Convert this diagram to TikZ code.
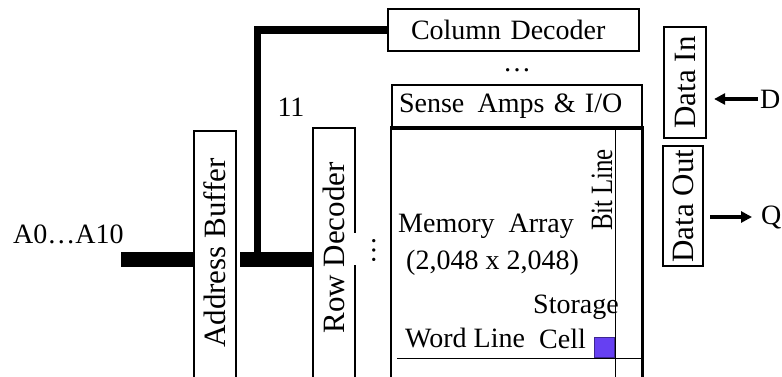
\documentclass[tikz,border=0pt]{standalone}
\usepackage{fontspec}
\setmainfont{Liberation Serif}
\usepackage{graphicx}
\usetikzlibrary{arrows.meta,positioning,calc}
\definecolor{ink}{RGB}{0,0,0}
\definecolor{cellblue}{RGB}{102,64,242}
\newcommand\figfont{\fontsize{28}{32}\selectfont}
\newcommand\vfont{\fontsize{31}{34}\selectfont}
\tikzset{
  >={Triangle[length=11pt,width=11pt]},
  box/.style={draw=ink,line width=2.2pt,inner sep=0pt,font=\figfont},
  openbox/.style={inner sep=0pt,font=\vfont},
  frame/.style={draw=ink,line width=2.2pt},
  bus/.style={draw=ink,line width=15pt},
  colbus/.style={draw=ink,line width=7.5pt},
  gridline/.style={draw=ink,line width=1pt},
  lbl/.style={inner sep=0pt,font=\figfont},
  io/.style={->,draw=ink,line width=4.5pt},
  cellsq/.style={draw=cellblue!60!black,line width=0.6pt,fill=cellblue,minimum size=20pt,inner sep=0pt},
}

\begin{document}
\begin{tikzpicture}[x=1pt,y=-1pt]
  \useasboundingbox (0,0) rectangle (782,377);
  \clip (0,0) rectangle (782,377);
  % decoders, sense amps and the array
  \node[box,minimum width=251pt,minimum height=42pt,inner xsep=23pt,text width=205pt,align=left] (coldec) at (513.5,30) {Column Decoder};
  \node[box,minimum width=250pt,minimum height=42pt,inner xsep=7pt,text width=236pt,align=left] (sense) at (517,106) {Sense\hspace{4pt} Amps \& I/O};
  \node[openbox,minimum width=251pt,minimum height=280pt,anchor=north west] (array) at (391,127) {};
  \node[openbox,minimum width=42pt,minimum height=244pt] (addr) at (215,253) {\rotatebox{90}{Address Buffer}};
  \node[openbox,minimum width=42pt,minimum height=240pt] (rowdec) at (334,248) {\rotatebox{90}{Row Decoder}};
  \node[box,font=\vfont,minimum width=42pt,minimum height=111pt] (datain) at (685,82.5) {\rotatebox{90}{Data In}};
  \node[box,font=\vfont,minimum width=40pt,minimum height=120pt] (dataout) at (683,206) {\rotatebox{90}{Data Out}};

  \draw[frame] ([yshift=-20pt]addr.south west) -- (addr.north west) -- (addr.north east) -- ([yshift=-20pt]addr.south east);
  \draw[frame] ([yshift=-20pt]rowdec.south west) -- (rowdec.north west) -- (rowdec.north east) -- (rowdec.east |- 0,233);
  \draw[frame] (rowdec.east |- 0,265) -- ([yshift=-20pt]rowdec.south east);
  \draw[frame] (array.south west) -- (array.north west) -- (array.north east) -- (array.south east);
  \draw[draw=ink,line width=4.5pt] (sense.south west) -- (sense.south east);

  % bit line, word line, cell
  \coordinate (bittop) at (615,129);
  \coordinate (wordend) at (397,358);
  \draw[gridline] (bittop) -- (bittop |- array.south);
  \draw[gridline] (wordend) -- (wordend -| array.east);
  \node[cellsq,anchor=south east] (cell) at (614.5,358) {};

  % labels
  \node[lbl,anchor=base west] (addrlbl) at (13,243) {A0…A10};
  \node[lbl,anchor=base] (buswidth) at (291,117) {11};
  \node[lbl,anchor=base] (coldots) at (517,72) {…};
  \node[lbl,rotate=90] (rowdots) at (374,250) {…};
  \node[lbl,anchor=base west] (memarr) at (398,232) {Memory\ \ Array};
  \node[lbl,anchor=base west] (memsize) at (406,269) {(2,048 x 2,048)};
  \node[lbl,anchor=base west] (storage) at (533,313) {Storage};
  \node[lbl,anchor=base west] (celllbl) at (539,348) {Cell};
  \node[lbl,anchor=base west] (wordlbl) at (405,347) {Word Line};
  \node[lbl,font=\vfont,rotate=90] (bitlbl) at (602,190) {\scalebox{0.8}[1]{Bit Line}};

  % address busses
  \coordinate (ain) at (121,259);
  \coordinate (aout) at (240,259);
  \coordinate (tap) at (257.5,259);
  \draw[bus] (ain) -- (ain -| addr.west);
  \draw[bus] (aout) -- (aout -| rowdec.west);
  \draw[colbus] (tap) |- (coldec.west);

  % data pins
  \node[lbl,anchor=west,inner sep=2pt] (dlbl) at (758,99) {D};
  \node[lbl,anchor=west,inner sep=2pt] (qlbl) at (759,217) {Q};
  \draw[io] (dlbl.west) -- ([xshift=7pt]datain.east |- dlbl.west);
  \draw[io,shorten >=7pt] ([xshift=6pt]dataout.east |- qlbl.west) -- (qlbl.west);
\end{tikzpicture}
\end{document}
